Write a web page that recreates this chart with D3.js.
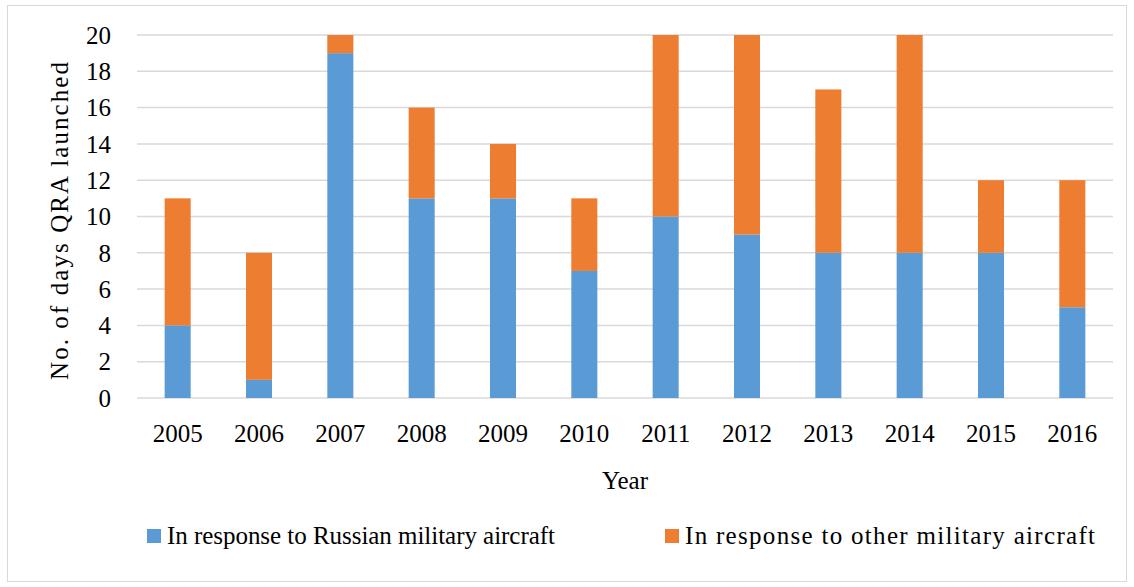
<!DOCTYPE html>
<html lang="en">
<head>
  <meta charset="UTF-8">
  <title>QRA launches 2005-2016</title>
  <script src="https://d3js.org/d3.v7.min.js"></script>
  <style>
    body { margin: 0; background: #fff; }
    svg { display: block; }
    svg text { font-family: "Liberation Serif", "Times New Roman", Times, "DejaVu Serif", serif; fill: #000; }
    .grid line { stroke: #d9d9d9; stroke-width: 1.5; }
  </style>
</head>
<body>
  <div id="chart"></div>
  <script>
    const years = ["2005","2006","2007","2008","2009","2010","2011","2012","2013","2014","2015","2016"];
    const russian = [4, 1, 19, 11, 11, 7, 10, 9, 8, 8, 8, 5];
    const other = [7, 7, 1, 5, 3, 4, 10, 11, 9, 12, 4, 7];
    const seriesNames = ["In response to Russian military aircraft", "In response to other military aircraft"];
    const colors = ["#5b9bd5", "#ed7d31"];
    const yTicks = [0, 2, 4, 6, 8, 10, 12, 14, 16, 18, 20];

    const width = 1134, height = 587;
    const margin = { left: 137, right: 21, top: 35, bottom: 189 };
    const serif = '"Liberation Serif", "Times New Roman", Times, "DejaVu Serif", serif';

    const svg = d3.select("#chart").append("svg")
      .attr("width", width)
      .attr("height", height);

    // outer frame
    svg.append("rect")
      .attr("x", 7.5).attr("y", 5.5)
      .attr("width", 1119).attr("height", 576)
      .attr("fill", "#fff")
      .attr("stroke", "#d9d9d9")
      .attr("stroke-width", 1);

    const x = d3.scaleBand()
      .domain(years)
      .range([margin.left, width - margin.right])
      .paddingInner(0.68)
      .paddingOuter(0.34);

    const y = d3.scaleLinear()
      .domain([0, 20])
      .range([height - margin.bottom, margin.top]);

    // gridlines
    svg.append("g").attr("class", "grid")
      .selectAll("line")
      .data(yTicks)
      .join("line")
      .attr("x1", margin.left)
      .attr("x2", width - margin.right)
      .attr("y1", d => y(d))
      .attr("y2", d => y(d));

    const rows = years.map((yr, i) => ({ year: yr, russian: russian[i], other: other[i] }));
    const stacked = d3.stack().keys(["russian", "other"])(rows);

    svg.append("g")
      .selectAll("g")
      .data(stacked)
      .join("g")
      .attr("fill", (d, i) => colors[i])
      .selectAll("rect")
      .data(d => d)
      .join("rect")
      .attr("x", d => x(d.data.year))
      .attr("width", x.bandwidth())
      .attr("y", d => y(d[1]))
      .attr("height", d => y(d[0]) - y(d[1]));

    // y tick labels
    svg.append("g")
      .selectAll("text")
      .data(yTicks)
      .join("text")
      .attr("x", 111)
      .attr("y", d => y(d))
      .attr("dy", "0.35em")
      .attr("text-anchor", "end")
      .attr("font-family", serif)
      .attr("font-size", 25)
      .text(d => d);

    // x tick labels
    svg.append("g")
      .selectAll("text")
      .data(years)
      .join("text")
      .attr("x", d => x(d) + x.bandwidth() / 2)
      .attr("y", 442)
      .attr("text-anchor", "middle")
      .attr("font-family", serif)
      .attr("font-size", 25)
      .text(d => d);

    // axis titles
    svg.append("text")
      .attr("x", 625)
      .attr("y", 489)
      .attr("text-anchor", "middle")
      .attr("font-family", serif)
      .attr("font-size", 25)
      .text("Year");

    svg.append("text")
      .attr("transform", "translate(68,221) rotate(-90)")
      .attr("text-anchor", "middle")
      .attr("font-family", serif)
      .attr("font-size", 25)
      .attr("textLength", 318)
      .attr("lengthAdjust", "spacing")
      .text("No. of days QRA launched");

    // legend
    const legendX = [147, 665];
    const legendLen = [388, 410];
    const legend = svg.append("g")
      .selectAll("g")
      .data(seriesNames)
      .join("g")
      .attr("transform", (d, i) => `translate(${legendX[i]},529)`);

    legend.append("rect")
      .attr("width", 14)
      .attr("height", 14)
      .attr("fill", (d, i) => colors[i]);

    legend.append("text")
      .attr("x", 20)
      .attr("y", 15)
      .attr("font-family", serif)
      .attr("font-size", 25)
      .attr("textLength", (d, i) => legendLen[i])
      .attr("lengthAdjust", "spacing")
      .text(d => d);
  </script>
</body>
</html>
